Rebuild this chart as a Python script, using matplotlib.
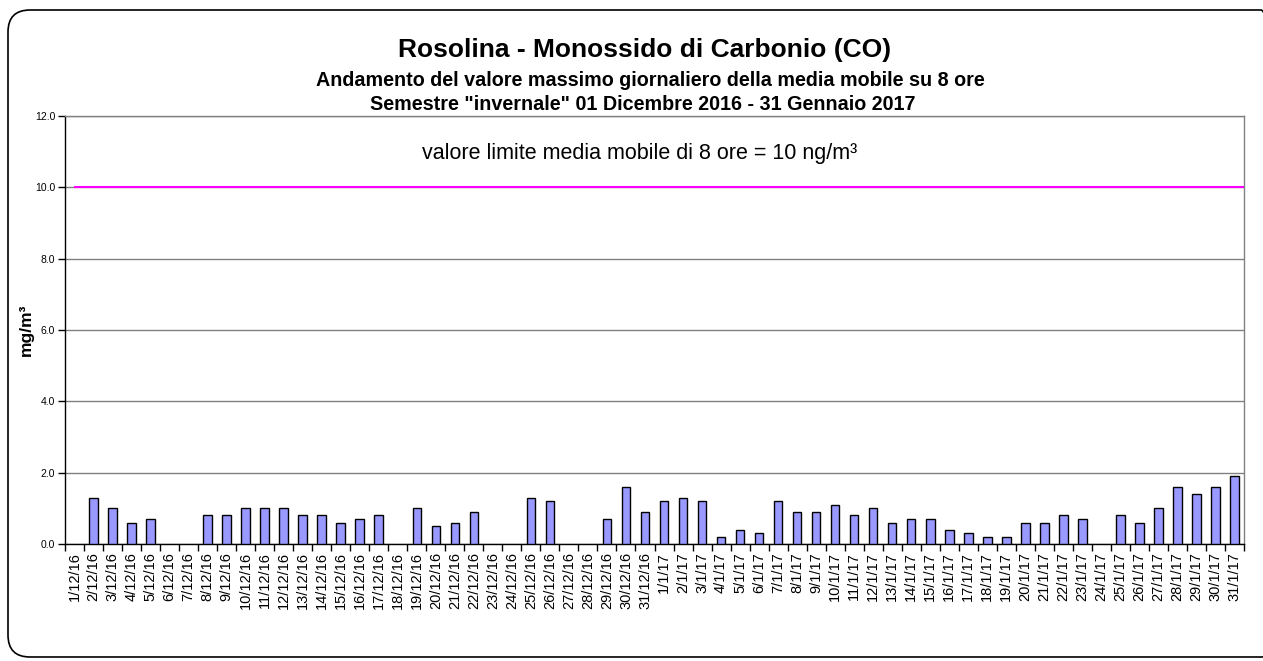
import matplotlib
matplotlib.use("Agg")
import matplotlib.pyplot as plt
import numpy as np
from matplotlib.patches import FancyBboxPatch

plt.rcParams['font.family'] = ['Liberation Sans', 'DejaVu Sans']

dates = (["%d/12/16" % d for d in range(1, 32)] +
         ["%d/1/17" % d for d in range(1, 32)])
values = [np.nan, 1.3, 1.0, 0.6, 0.7, np.nan, np.nan, 0.8, 0.8, 1.0,
          1.0, 1.0, 0.8, 0.8, 0.6, 0.7, 0.8, np.nan, 1.0, 0.5,
          0.6, 0.9, np.nan, np.nan, 1.3, 1.2, np.nan, np.nan, 0.7, 1.6,
          0.9,
          1.2, 1.3, 1.2, 0.2, 0.4, 0.3, 1.2, 0.9, 0.9, 1.1,
          0.8, 1.0, 0.6, 0.7, 0.7, 0.4, 0.3, 0.2, 0.2, 0.6,
          0.6, 0.8, 0.7, np.nan, 0.8, 0.6, 1.0, 1.6, 1.4, 1.6,
          1.9]
limit = 10.0
yticks = [0.0, 2.0, 4.0, 6.0, 8.0, 10.0, 12.0]

W, H = 1263, 661
fig = plt.figure(figsize=(W / 100, H / 100), dpi=100)

# background frame (pixel coordinates)
bg = fig.add_axes([0, 0, 1, 1], zorder=-1)
bg.set_xlim(0, W)
bg.set_ylim(0, H)
bg.axis('off')
bg.add_patch(FancyBboxPatch((8, 4), 1275, 647,
                            boxstyle="round,pad=0,rounding_size=22",
                            fill=False, edgecolor='black', linewidth=1.2))

ax = fig.add_axes([65 / W, (H - 544) / H, (1244 - 65) / W, (544 - 116) / H])
x = np.arange(len(dates))
ax.bar(x, values, width=0.45, color='#9999FF', edgecolor='black', linewidth=1.0, zorder=3)
ax.axhline(limit, xmin=0.0085, xmax=0.999, color='#FF00FF', linewidth=1.5, zorder=4)

ax.set_xlim(-0.5, len(dates) - 0.5)
ax.set_ylim(0, 12)
ax.set_yticks(yticks)
ax.set_yticklabels(["%.1f" % v for v in yticks], fontsize=7.5)
ax.yaxis.grid(True, color='#808080', linewidth=1.0, zorder=0)
ax.set_axisbelow(True)

ax.set_xticks(x)
ax.set_xticklabels(dates, rotation=90, fontsize=10.5)
ax.set_xticks(np.arange(-0.5, len(dates), 1.0), minor=True)
ax.tick_params(axis='x', which='major', length=0, pad=6)
ax.tick_params(axis='x', which='minor', length=5, width=1, direction='out')
ax.tick_params(axis='y', length=5, width=1, direction='out', pad=2)

for s in ['left', 'bottom']:
    ax.spines[s].set_color('black')
    ax.spines[s].set_linewidth(1.0)
for s in ['top', 'right']:
    ax.spines[s].set_color('#808080')
    ax.spines[s].set_linewidth(1.0)

fig.text(26 / W, 1 - 330 / H, "mg/m³", rotation=90, ha='center', va='center',
         fontsize=12.5, fontweight='bold')

ax.text((640 - 65) / 1179, (544 - 153) / 428, "valore limite media mobile di 8 ore = 10 ng/m³",
        transform=ax.transAxes, ha='center', va='center', fontsize=15.5)

fig.text(645 / W, 1 - 50 / H, "Rosolina - Monossido di Carbonio (CO)",
         ha='center', va='center', fontsize=19, fontweight='bold')
fig.text(650 / W, 1 - 81 / H, "Andamento del valore massimo giornaliero della media mobile su 8 ore",
         ha='center', va='center', fontsize=14.2, fontweight='bold')
fig.text(643 / W, 1 - 104 / H, 'Semestre "invernale" 01 Dicembre 2016 - 31 Gennaio 2017',
         ha='center', va='center', fontsize=14.2, fontweight='bold')

fig.savefig("out.png", dpi=100)
